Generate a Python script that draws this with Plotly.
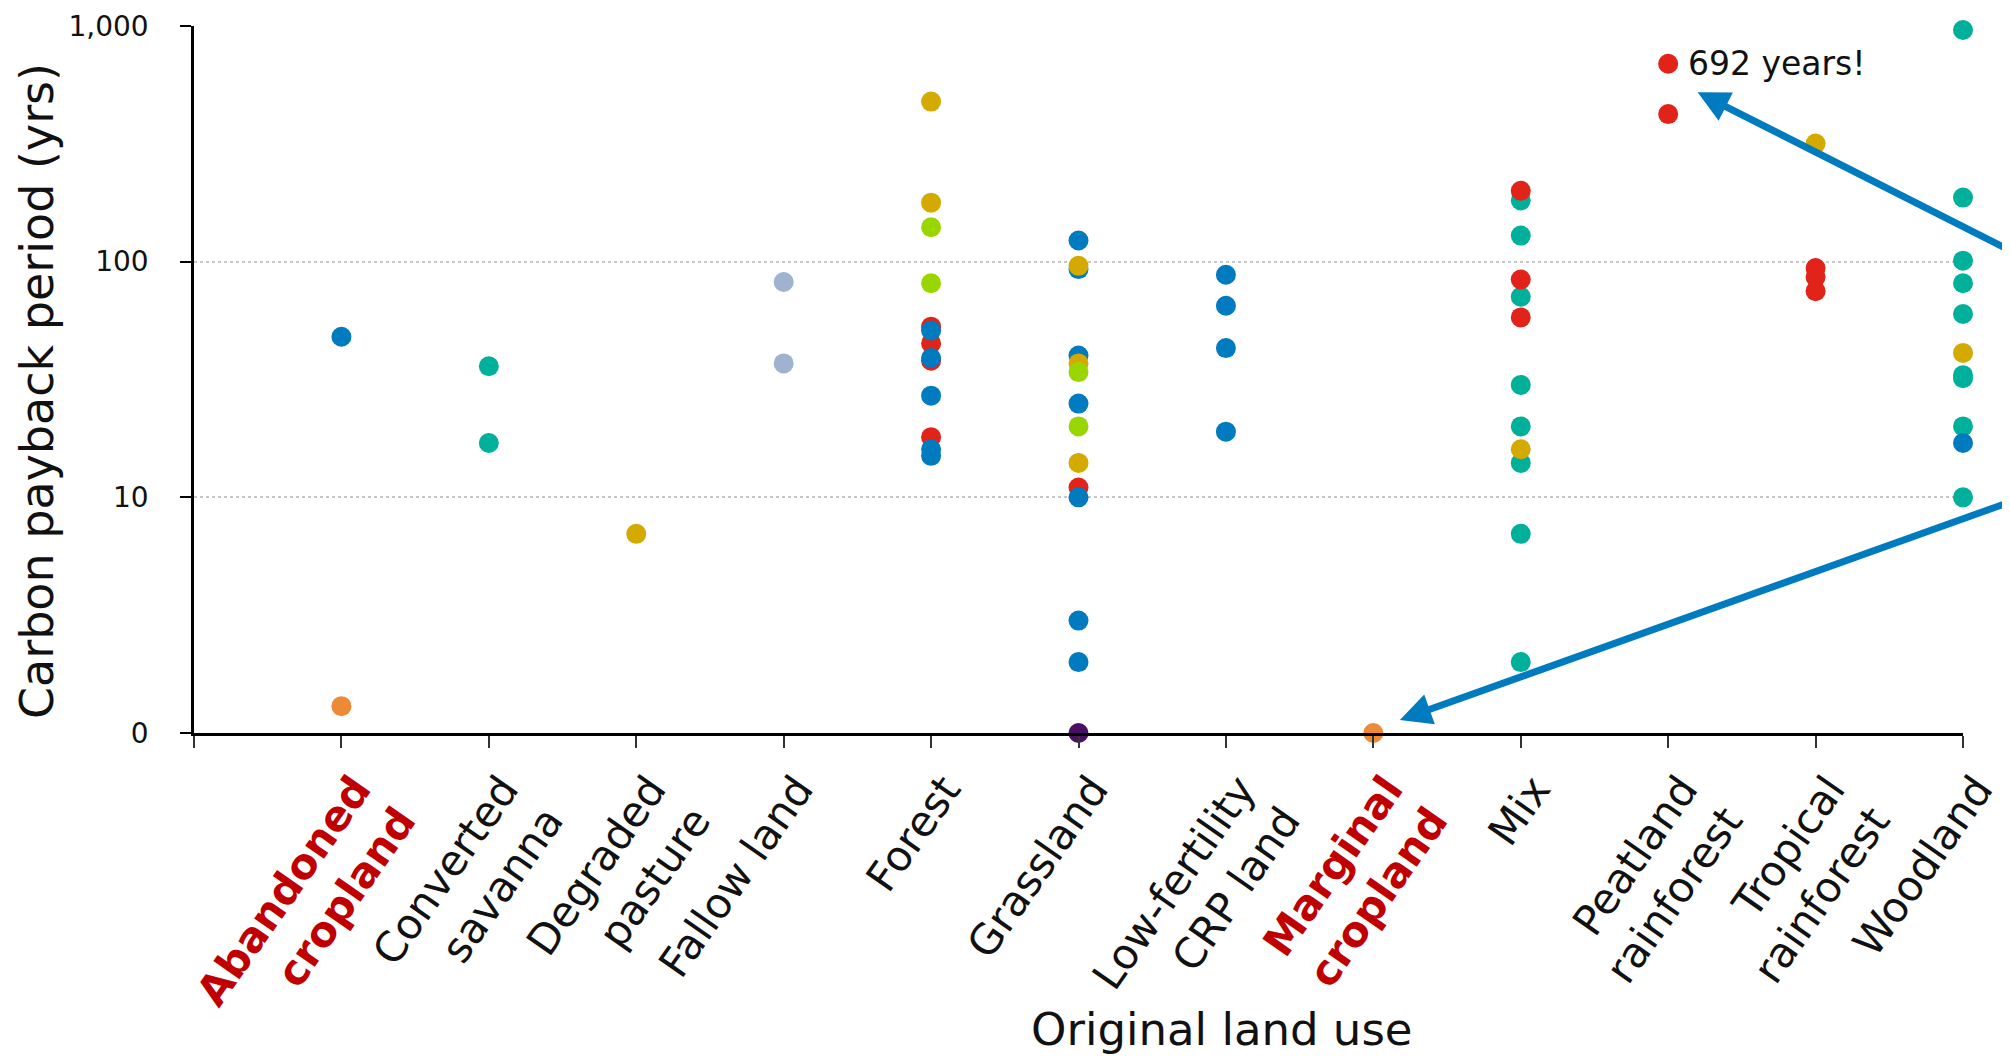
import math
import plotly.graph_objects as go

# Categories (x positions 1..12 on a linear axis that starts at 0)
categories = [
    "Abandoned cropland", "Converted savanna", "Degraded pasture", "Fallow land",
    "Forest", "Grassland", "Low-fertility CRP land", "Marginal cropland", "Mix",
    "Peatland rainforest", "Tropical rainforest", "Woodland",
]
tick_labels = [
    "<span style='color:#C00000'><b>Abandoned<br>cropland</b></span>",
    "Converted<br>savanna", "Degraded<br>pasture", "Fallow land", "Forest",
    "Grassland", "Low-fertility<br>CRP land",
    "<span style='color:#C00000'><b>Marginal<br>cropland</b></span>",
    "Mix", "Peatland<br>rainforest", "Tropical<br>rainforest", "Woodland",
]

# y tick values: the bottom of the log axis (1) is labelled "0"
y_tickvals = [1, 10, 100, 1000]
y_ticktext = ["0", "10", "100", "1,000"]

# Series (payback years; zero-year results sit on the "0" baseline = 1)
teal_cat = ["Converted savanna"] * 2 + ["Mix"] * 8 + ["Woodland"] * 9
teal_val = [36, 17, 182, 129, 71, 30, 20, 14, 7, 2, 962, 187, 101, 81, 60, 33, 32, 20, 10]

red_cat = (["Forest"] * 4 + ["Grassland"] + ["Mix"] * 3 + ["Peatland rainforest"] * 2
           + ["Tropical rainforest"] * 3)
red_val = [53, 45, 38, 18, 11, 200, 84, 58, 692, 423, 94, 86, 75]

blue_cat = (["Abandoned cropland"] + ["Forest"] * 5 + ["Grassland"] * 7
            + ["Low-fertility CRP land"] * 4 + ["Woodland"])
blue_val = [48, 51, 39, 27, 16, 15, 123, 93, 40, 25, 10, 3, 2, 88, 65, 43, 19, 17]

gold_cat = (["Degraded pasture"] + ["Forest"] * 2 + ["Grassland"] * 3 + ["Mix"]
            + ["Tropical rainforest"] + ["Woodland"])
gold_val = [7, 478, 178, 96, 37, 14, 16, 317, 41]

green_cat = ["Forest"] * 2 + ["Grassland"] * 2
green_val = [140, 81, 34, 20]

orange_cat = ["Abandoned cropland", "Marginal cropland"]
orange_val = [1.3, 1]

lightblue_cat = ["Fallow land"] * 2
lightblue_val = [82, 37]

purple_cat = ["Grassland"]
purple_val = [1]

# Call-out: the peatland maximum
callout_cat = "Peatland rainforest"
callout_val = 692
callout_text = "692 years!"

series = [
    ("teal", teal_cat, teal_val, "#00B09B"),
    ("red", red_cat, red_val, "#E2231A"),
    ("blue", blue_cat, blue_val, "#007BBF"),
    ("gold", gold_cat, gold_val, "#D4AA00"),
    ("green", green_cat, green_val, "#99D600"),
    ("orange", orange_cat, orange_val, "#ED8A36"),
    ("lightblue", lightblue_cat, lightblue_val, "#9FB3D1"),
    ("purple", purple_cat, purple_val, "#4B1066"),
]

cat_pos = {c: i + 1 for i, c in enumerate(categories)}

FONT = "DejaVu Sans"
TXT = "#111111"
ARROW = "#007BBF"

fig = go.Figure()
for name, cats, vals, color in series:
    fig.add_trace(go.Scatter(
        x=[cat_pos[c] for c in cats], y=vals, mode="markers", name=name,
        marker=dict(size=20, color=color, line=dict(width=0)),
        cliponaxis=False, showlegend=False,
    ))

fig.update_layout(
    width=2002, height=1051,
    margin=dict(l=186, r=47, t=18, b=326, autoexpand=False),
    paper_bgcolor="white", plot_bgcolor="white",
    font=dict(family=FONT, color=TXT),
    xaxis=dict(
        range=[0, 12], tickmode="array",
        tickvals=list(range(0, 13)), ticktext=[""] + tick_labels,
        tickangle=-55, tickfont=dict(size=42, family=FONT, color=TXT),
        ticklabelshift=14,
        showline=True, linecolor="black", linewidth=2.5,
        ticks="outside", ticklen=12, tickwidth=2, tickcolor="#333333",
        showgrid=False, zeroline=False, automargin=False,
    ),
    yaxis=dict(
        type="log", range=[0, 3.0001], tickmode="array",
        tickvals=y_tickvals, ticktext=y_ticktext,
        tickfont=dict(size=28, family=FONT, color=TXT),
        showline=True, linecolor="black", linewidth=2.5,
        ticks="outside", ticklen=11, tickwidth=2, tickcolor="black",
        ticklabelstandoff=26, ticklabeloverflow="allow",
        showgrid=True, gridcolor="#C8C8C8", gridwidth=1.5, griddash="dot",
        zeroline=False, automargin=False,
    ),
    annotations=[
        dict(text="Carbon payback period (yrs)", xref="paper", yref="paper",
             x=-0.0888, y=0.4835, xanchor="center", yanchor="middle",
             textangle=-90, showarrow=False,
             font=dict(size=46, family=FONT, color=TXT)),
        dict(text="Original land use", xref="paper", yref="paper",
             x=0.5811, y=-0.4187, xanchor="center", yanchor="middle",
             showarrow=False, font=dict(size=45, family=FONT, color=TXT)),
        dict(text=callout_text, xref="x", yref="y",
             x=cat_pos[callout_cat], y=math.log10(callout_val), xanchor="left",
             yanchor="middle", xshift=18, showarrow=False,
             font=dict(size=33, family=FONT, color=TXT)),
        # arrow pointing at the 692-year call-out
        dict(text="", xref="x", yref="y", x=10.2, y=math.log10(523),
             ax=315, ay=158, showarrow=True, arrowhead=2, arrowsize=0.9,
             arrowwidth=7, arrowcolor=ARROW),
        # arrow pointing at the marginal-cropland zero result
        dict(text="", xref="x", yref="y", x=8.18, y=math.log10(1.135),
             ax=613, ay=-218, showarrow=True, arrowhead=2, arrowsize=0.9,
             arrowwidth=7, arrowcolor=ARROW),
    ],
)

fig.write_html("out.html")
